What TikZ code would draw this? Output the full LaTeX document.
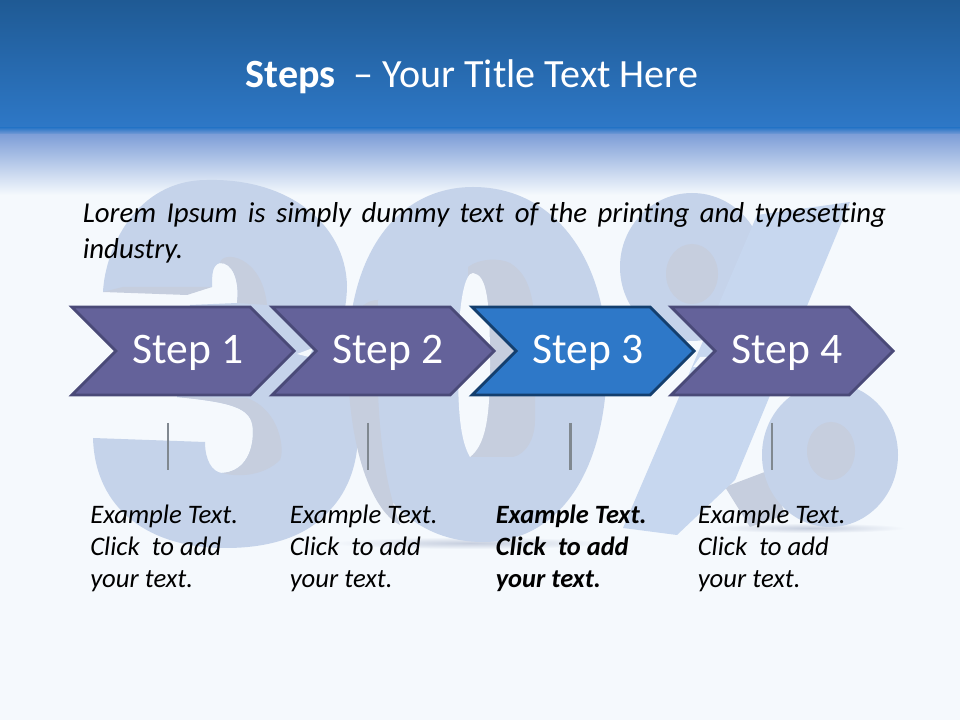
\documentclass[tikz,border=0pt]{standalone}
\usepackage{fontspec}
\setmainfont[Ligatures=NoCommon]{Carlito}
\usepackage{tikz}
\usetikzlibrary{shapes.symbols}
\usetikzlibrary{positioning}

\definecolor{pagebg}{HTML}{F5F9FD}
\definecolor{bandtop}{HTML}{1F5A94}
\definecolor{bandlow}{HTML}{2E78C7}
\definecolor{bandfade}{HTML}{7F9FD8}
\definecolor{digitface}{HTML}{C5D3EA}
\definecolor{digitdepth}{HTML}{C6CEDE}
\definecolor{slashface}{HTML}{C7D7EF}
\definecolor{stepfill}{HTML}{64629A}
\definecolor{stepline}{HTML}{4A4A78}
\definecolor{activefill}{HTML}{2E78C8}
\definecolor{activeline}{HTML}{143F6E}
\definecolor{tickgray}{HTML}{808890}

\tikzset{
  stepbox/.style={signal,signal to=east,signal from=west,signal pointer angle=90,
    minimum width=5.55cm,minimum height=2.2cm,inner sep=0pt,
    text height=23.5pt,text depth=6pt,
    fill=stepfill,draw=stepline,line width=2pt,text=white,
    font=\fontsize{31}{33}\selectfont},
  activebox/.style={stepbox,fill=activefill,draw=activeline},
  tick/.style={draw=tickgray,line width=2.1pt},
  exampletext/.style={align=left,anchor=north west,inner sep=0pt,
    font=\fontsize{19}{22.7}\selectfont\itshape},
}

\begin{document}
\begin{tikzpicture}[x=0.025cm,y=-0.025cm]
  \useasboundingbox (0,0) rectangle (960,720);

  % backdrop
  \fill[pagebg] (0,0) rectangle (960,720);
  \shade[top color=bandtop,bottom color=bandlow] (0,0) rectangle (960,128);
  \shade[top color=bandlow,bottom color=bandfade] (0,128) rectangle (960,135);
  \shade[top color=bandfade,bottom color=pagebg] (0,135) rectangle (960,195);

  % floor shadows
  \shade[inner color=digitdepth,outer color=pagebg] (810,528) ellipse (95 and 5);
  \shade[inner color=digitdepth,outer color=pagebg] (470,543) ellipse (140 and 6);

  % the 3
  \fill[digitface] (103,292) .. controls (105,250) and (135,180) .. (207,180)
    .. controls (290,178) and (345,225) .. (347,285)
    .. controls (347,320) and (330,360) .. (335,355)
    .. controls (365,400) and (368,470) .. (330,510)
    .. controls (300,545) and (250,548) .. (225,548)
    .. controls (150,548) and (95,510) .. (93,438)
    -- (205,442) .. controls (205,460) and (212,472) .. (222,473)
    .. controls (242,472) and (253,455) .. (253,432)
    .. controls (253,410) and (240,403) .. (177,397)
    -- (190,305) -- (237,303)
    .. controls (240,280) and (232,262) .. (220,263)
    .. controls (212,265) and (212,275) .. (212,287) -- cycle;
  \fill[digitdepth] (123,287) -- (212,287) -- (187,295) -- (103,292) -- cycle;
  \fill[digitdepth] (220,263) .. controls (222,250) and (262,255) .. (267,305)
    -- (237,303) .. controls (240,280) and (232,262) .. (220,263) -- cycle;
  \fill[digitdepth] (177,397) -- (247,398)
    .. controls (280,410) and (285,450) .. (280,460)
    .. controls (265,475) and (240,478) .. (222,473)
    .. controls (242,472) and (253,455) .. (253,432)
    .. controls (253,410) and (240,403) .. (177,397) -- cycle;

  % the 0
  \fill[digitface] (348,360) .. controls (348,250) and (400,187) .. (473,187)
    .. controls (555,187) and (607,260) .. (607,360)
    .. controls (607,470) and (560,542) .. (483,542)
    .. controls (400,542) and (348,470) .. (348,360) -- cycle;
  \fill[digitdepth] (348,340) .. controls (345,440) and (370,510) .. (400,525)
    .. controls (380,470) and (375,400) .. (378,300)
    .. controls (360,300) and (350,320) .. (348,340) -- cycle;
  \fill[digitdepth] (468,267) .. controls (480,258) and (500,258) .. (510,263)
    .. controls (530,275) and (535,300) .. (535,340) -- (535,420)
    .. controls (535,445) and (520,458) .. (510,457) -- (470,457) -- cycle;
  \fill[pagebg] (458,365) .. controls (458,300) and (465,273) .. (473,273)
    .. controls (487,275) and (490,300) .. (490,365)
    .. controls (490,420) and (485,445) .. (470,457)
    .. controls (460,440) and (458,410) .. (458,365) -- cycle;

  % the percent sign
  \fill[digitface] (692,267) ellipse (72 and 74);
  \fill[digitdepth] (692,274) ellipse (26 and 30);
  \fill[digitdepth] (725,487) -- (770,470) -- (785,515) -- (750,527) -- cycle;
  \fill[digitface] (830,455) ellipse (68 and 72);
  \fill[digitdepth] (831,451) ellipse (24 and 29);
  \fill[slashface] (757,215) -- (850,202) -- (735,480) -- (677,535) -- (623,528) -- cycle;

  % gaps showing through the arrows
  \fill[pagebg] (297,354) -- (313,348) -- (309,357) -- cycle;
  \fill[pagebg] (693,367) -- (700,357) -- (713,357) -- (705,367) -- cycle;

  % heading
  \node[text=white,font=\fontsize{28.5}{30}\selectfont] (title) at (472,77)
    {\textbf{Steps} \ – Your Title Text Here};
  \node[anchor=north west,inner sep=0pt,text width=20.08cm,align=justify,
    font=\fontsize{20.5}{25.5}\selectfont\itshape] (intro) at (82.5,202)
    {Lorem Ipsum is simply dummy text of the printing and typesetting\linebreak industry.};

  % steps
  \node[stepbox] (step1) at (183,351) {\kern7pt Step 1};
  \node[stepbox,right of=step1,xshift=4cm] (step2) {\kern7pt Step 2};
  \node[activebox,right of=step2,xshift=4cm] (step3) {\kern7pt Step 3};
  \node[stepbox,right of=step3,xshift=3.975cm] (step4) {\kern7pt Step 4};

  \coordinate (tick1a) at (168,423);
  \coordinate (tick1b) at (168,470);
  \coordinate (tick2a) at (368,423);
  \coordinate (tick2b) at (368,470);
  \coordinate (tick3a) at (570.5,423);
  \coordinate (tick3b) at (570.5,470);
  \coordinate (tick4a) at (772,423);
  \coordinate (tick4b) at (772,470);
  \draw[tick] (tick1a) -- (tick1b);
  \draw[tick] (tick2a) -- (tick2b);
  \draw[tick] (tick3a) -- (tick3b);
  \draw[tick] (tick4a) -- (tick4b);

  % captions
  \node[exampletext] (text1) at (90,505) {Example Text.\\ Click \ to add\\ your text.};
  \node[exampletext] (text2) at (289.5,505) {Example Text.\\ Click \ to add\\ your text.};
  \node[exampletext,font=\fontsize{18.8}{22.7}\selectfont\itshape\bfseries] (text3) at (495.5,505)
    {Example Text.\\ Click \ to add\\ your text.};
  \node[exampletext] (text4) at (697.5,505) {Example Text.\\ Click \ to add\\ your text.};
\end{tikzpicture}
\end{document}
